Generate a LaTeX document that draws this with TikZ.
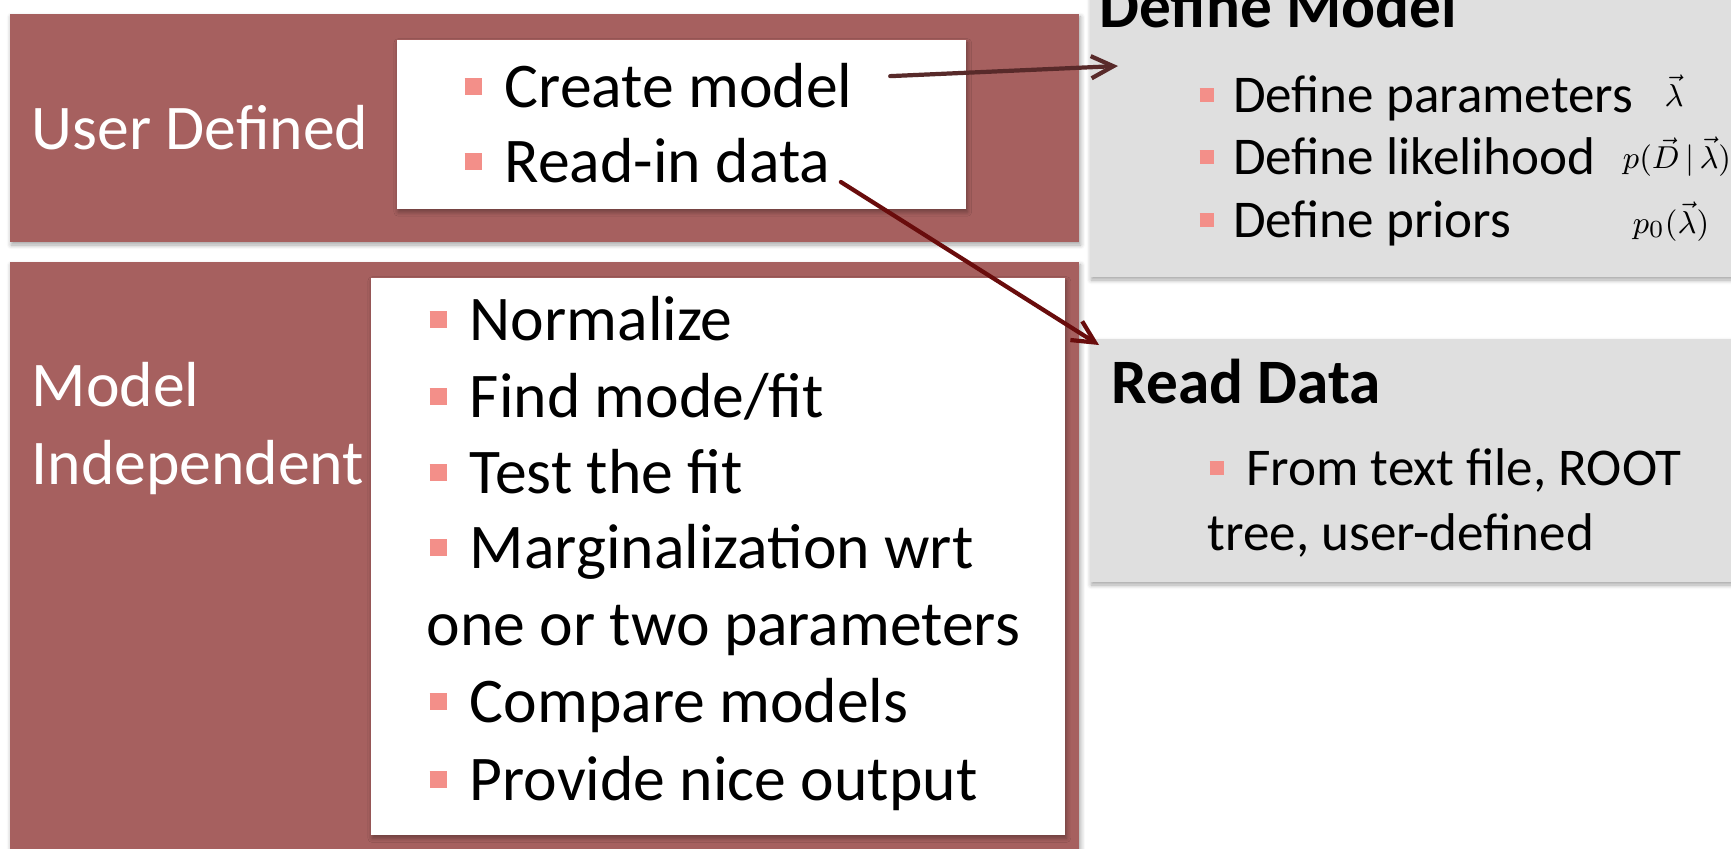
\documentclass[tikz,border=0pt]{standalone}
\usepackage{fontspec}
\setmainfont{Carlito}
\usetikzlibrary{arrows.meta, shadows.blur}
\definecolor{boxred}{RGB}{166,96,95}
\definecolor{boxgray}{RGB}{223,223,223}
\definecolor{bulletpink}{RGB}{243,143,137}
\definecolor{arrowbrown}{RGB}{88,42,42}
\definecolor{arrowred}{RGB}{105,12,12}
\newcommand{\sqbullet}{\textcolor{bulletpink}{\rule[0.19em]{0.27em}{0.26em}}\hspace{0.36em}}
\tikzstyle{panel} = [rectangle, anchor=north west, inner sep=0, blur shadow={shadow xshift=0.4pt, shadow yshift=-0.9pt, shadow blur radius=1.2pt, shadow opacity=35}]
\tikzstyle{redbox} = [panel, fill=boxred]
\tikzstyle{whitebox} = [panel, fill=white]
\tikzstyle{graybox} = [panel, fill=boxgray]
\tikzstyle{lefttext} = [anchor=base west, inner sep=0, font=\fontsize{18.1}{22}\selectfont]
\tikzstyle{labeltext} = [lefttext, text=white]
\tikzstyle{righttext} = [anchor=base west, inner sep=0, font=\fontsize{15.1}{18}\selectfont]
\tikzstyle{headtext} = [anchor=base west, inner sep=0, font=\bfseries\fontsize{18}{21}\selectfont]
\tikzstyle{mathtext} = [anchor=base, inner sep=0, font=\fontsize{9.5}{11}\selectfont]
\tikzstyle{arrow} = [line width=1.2pt, line cap=round, -{Straight Barb[length=6.3pt, width=6.3pt, line width=1.2pt]}]

\begin{document}
\begin{tikzpicture}[x=0.01cm, y=-0.01cm]
    \useasboundingbox (0,0) rectangle (1731,848);

    % panels
    \node [redbox, minimum width=10.69cm, minimum height=2.28cm]	(userbox)	at (9,13)		{};
    \node [whitebox, minimum width=5.69cm, minimum height=1.69cm]	(userlist)	at (396,39)		{};
    \node [redbox, minimum width=10.69cm, minimum height=6cm]		(indepbox)	at (9,261)		{};
    \node [whitebox, minimum width=6.94cm, minimum height=5.57cm]	(indeplist)	at (370,277)	{};
    \node [graybox, minimum width=6.6cm, minimum height=2.86cm]		(modelbox)	at (1089,-10)	{};
    \node [graybox, minimum width=6.6cm, minimum height=2.43cm]		(databox)	at (1089,338)	{};

    % user defined
    \node [labeltext]	(userlbl)	at (31,149)		{User Defined};
    \node [lefttext]	(create)	at (464,107)	{\sqbullet Create model};
    \node [lefttext]	(readin)	at (464,182)	{\sqbullet Read-in data};

    % model independent
    \node [labeltext]	(modellbl)	at (31,406)		{Model};
    \node [labeltext]	(indeplbl)	at (31,484)		{Independent};
    \node [lefttext]	(norm)		at (429,340)	{\sqbullet Normalize};
    \node [lefttext]	(findfit)	at (429,417)	{\sqbullet Find mode/fit};
    \node [lefttext]	(testfit)	at (429,493)	{\sqbullet Test the fit};
    \node [lefttext]	(marg)		at (429,568)	{\sqbullet Marginalization wrt};
    \node [lefttext]	(margb)		at (426,645)	{one or two parameters};
    \node [lefttext]	(compare)	at (429,722)	{\sqbullet Compare models};
    \node [lefttext]	(output)	at (429,800)	{\sqbullet Provide nice output};

    % define model
    \node [headtext]	(modelhead)	at (1099,27)	{Define Model};
    \node [righttext]	(defpar)	at (1199,112)	{\sqbullet Define parameters};
    \node [righttext]	(deflik)	at (1199,174)	{\sqbullet Define likelihood};
    \node [righttext]	(defpri)	at (1199,237)	{\sqbullet Define priors};
    \node [mathtext]	(parsym)	at (1674,106)	{$\vec{\lambda}$};
    \node [mathtext]	(liksym)	at (1677,168)	{$p(\vec{D}\,|\,\vec{\lambda})$};
    \node [mathtext]	(prisym)	at (1671,233)	{$p_0(\vec{\lambda})$};

    % read data
    \node [headtext]	(datahead)	at (1111,403)	{Read Data};
    \node [righttext]	(fromtxt)	at (1209,485)	{\sqbullet\hspace{0.06em}From text file, ROOT};
    \node [righttext]	(fromtxtb)	at (1207,550)	{tree, user-defined};

    \coordinate (modelin) at (1118,66);
    \coordinate (datain) at (1099,345);

    \draw [arrow, draw=arrowbrown] ([xshift=0.37cm, yshift=0.09cm]create.east) -- (modelin);
    \draw [arrow, draw=arrowred] ([xshift=0.1cm]readin.base east) -- (datain);
\end{tikzpicture}
\end{document}
